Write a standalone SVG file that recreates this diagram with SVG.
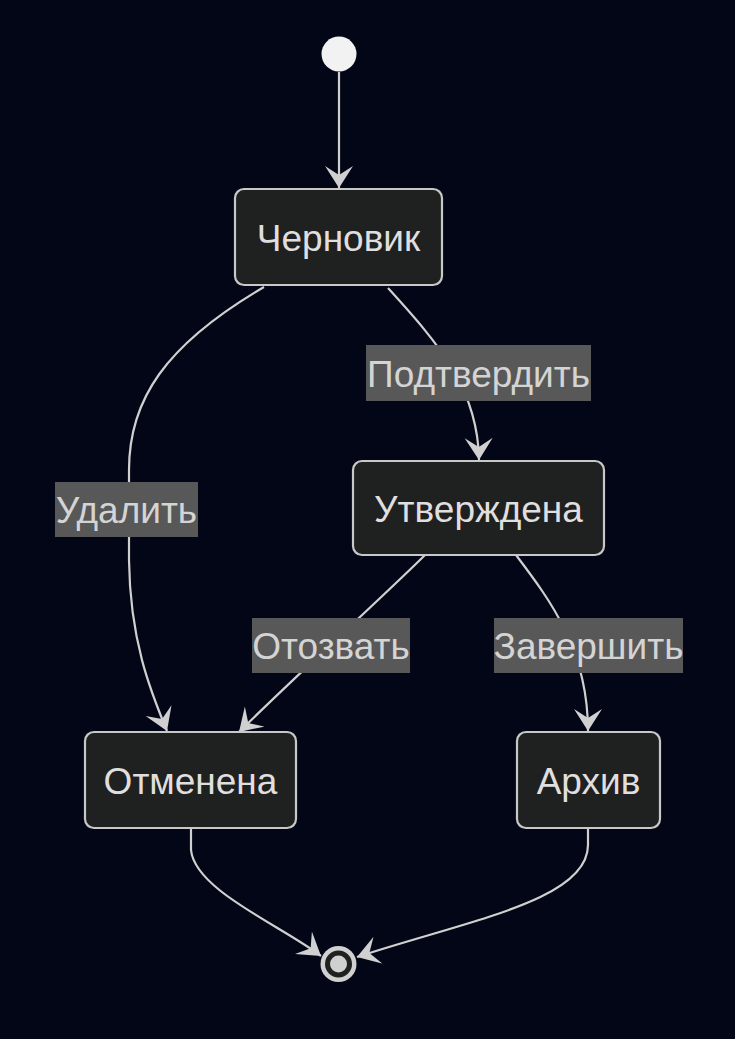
<svg xmlns="http://www.w3.org/2000/svg" width="735" height="1039" viewBox="0 0 735 1039">
<style>
.bg{fill:#020617}
.node rect{fill:#1f2020;stroke:#c8c8c8;stroke-width:2.2}
.node text{fill:#e0dfdf;font-family:"Liberation Sans",Arial,sans-serif;font-size:37px;text-anchor:middle;dominant-baseline:central}
.edge{fill:none;stroke:#d0d0d0;stroke-width:2.2}
.lbl rect{fill:#585858}
.lbl text{fill:#d4d4d4;font-family:"Liberation Sans",Arial,sans-serif;font-size:37px;text-anchor:middle;dominant-baseline:central}
</style>
<defs>
<marker id="barb" markerUnits="userSpaceOnUse" markerWidth="26" markerHeight="30" refX="22" refY="14" orient="auto">
<path d="M0,0 L22,14 L0,28 L9,14 Z" fill="#d0d0d0"/>
</marker>
</defs>
<rect class="bg" x="0" y="0" width="735" height="1039"/>
<g id="connectors">
<path class="edge" d="M339,72 L339,188" marker-end="url(#barb)"/>
<path class="edge" d="M264,287 C165,345 129,400 129,470 L129,560 C130,640 150,690 167,731" marker-end="url(#barb)"/>
<path class="edge" d="M388,288 C440,345 478,390 479,460" marker-end="url(#barb)"/>
<path class="edge" d="M425,555 C390,590 300,672 239,732" marker-end="url(#barb)"/>
<path class="edge" d="M516,555 C550,600 588,650 588,731" marker-end="url(#barb)"/>
<path class="edge" d="M191,828 L191,850 C195,890 280,925 321,956" marker-end="url(#barb)"/>
<path class="edge" d="M588,828 L588,845 C588,900 470,920 357,957" marker-end="url(#barb)"/>
</g>
<g id="labels">
<g class="lbl" id="lbl-podtverdit"><rect x="366" y="345" width="225" height="56"/><text x="478.5" y="374">Подтвердить</text></g>
<g class="lbl" id="lbl-udalit"><rect x="55" y="482" width="143" height="55"/><text x="126.5" y="510.5">Удалить</text></g>
<g class="lbl" id="lbl-otozvat"><rect x="252" y="618" width="158" height="55"/><text x="331" y="646.5">Отозвать</text></g>
<g class="lbl" id="lbl-zavershit"><rect x="494" y="618" width="189" height="55"/><text x="588.5" y="646.5">Завершить</text></g>
</g>
<g id="start"><circle cx="339" cy="54" r="17.5" fill="#f2f2f2"/></g>
<g id="chernovik" class="node"><rect x="235" y="189" width="207" height="96" rx="9"/><text x="338.5" y="238">Черновик</text></g>
<g id="utverzhdena" class="node"><rect x="353" y="461" width="251" height="94" rx="9"/><text x="478.5" y="509">Утверждена</text></g>
<g id="otmenena" class="node"><rect x="85" y="732" width="211" height="96" rx="9"/><text x="190.5" y="781">Отменена</text></g>
<g id="arhiv" class="node"><rect x="517" y="732" width="143" height="96" rx="9"/><text x="588.5" y="781">Архив</text></g>
<g id="end"><circle cx="338.5" cy="964" r="18" fill="#d0d0d0"/><circle cx="338.5" cy="964" r="13.5" fill="#1f2020"/><circle cx="338.5" cy="964" r="8.5" fill="#d0d0d0"/></g>
</svg>
